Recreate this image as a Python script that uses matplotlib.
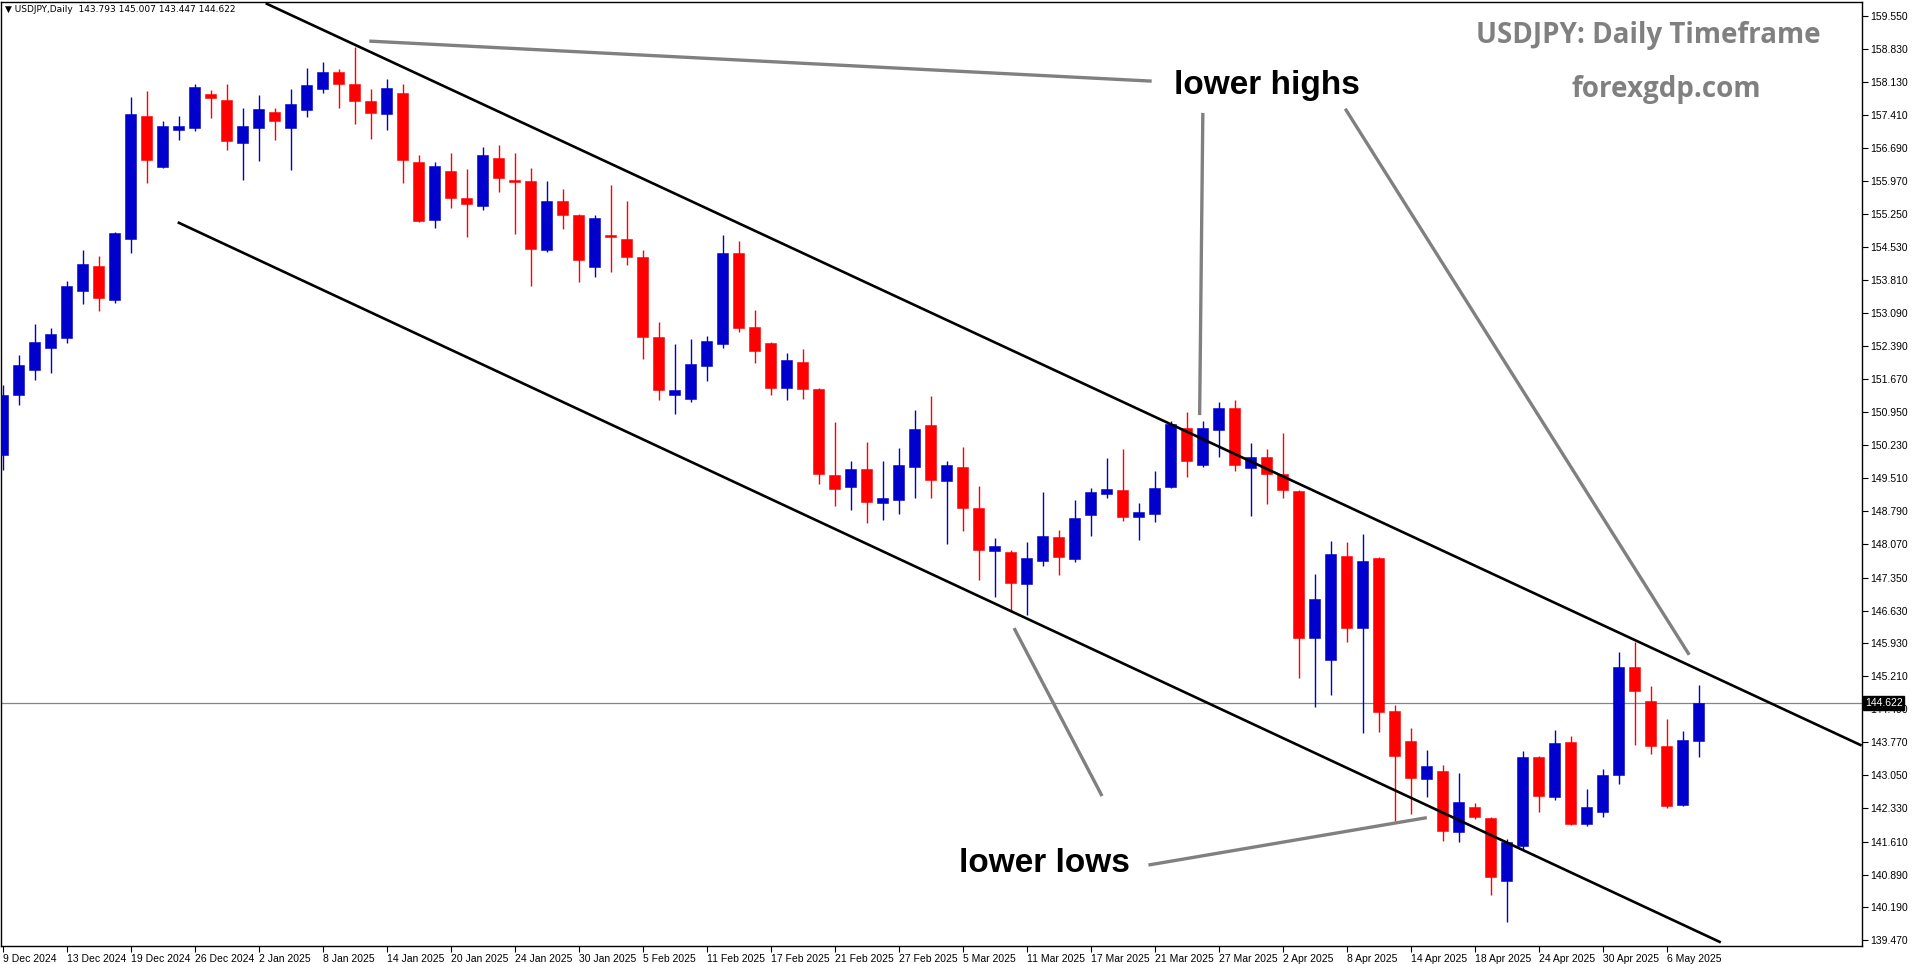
import matplotlib
matplotlib.use('Agg')
import matplotlib.pyplot as plt
import numpy as np

# daily candles, USDJPY 9 Dec 2024 - 8 May 2025
OPEN = [150.01, 151.32, 151.86, 152.34, 152.56, 153.58, 154.12, 153.38, 154.71, 157.38,
        156.28, 157.08, 157.12, 157.86, 157.73, 156.80, 157.12, 157.47, 157.12, 157.51,
        157.97, 158.34, 158.08, 157.71, 157.43, 157.88, 156.38, 155.12, 156.19, 155.60,
        155.43, 156.47, 155.99, 155.97, 154.47, 155.54, 155.23, 154.10, 154.80, 154.71,
        154.32, 152.58, 151.32, 151.23, 151.95, 152.43, 154.40, 152.79, 152.45, 151.47,
        152.04, 151.45, 149.58, 149.32, 149.70, 148.97, 149.03, 149.75, 150.67, 149.45,
        149.75, 148.86, 147.93, 147.90, 147.21, 147.71, 148.23, 147.75, 148.71, 149.17,
        149.25, 148.66, 148.73, 149.32, 150.60, 149.80, 150.56, 151.04, 149.73, 149.97,
        149.60, 149.23, 146.03, 145.56, 147.82, 146.25, 147.77, 144.45, 143.79, 142.97,
        143.14, 141.82, 142.36, 142.12, 140.75, 141.51, 143.45, 142.58, 143.77, 141.99,
        142.25, 143.06, 145.40, 144.66, 143.69, 142.41, 143.793]
HIGH = [151.54, 152.19, 152.86, 152.77, 153.80, 154.47, 154.34, 154.86, 157.80, 157.93,
        157.27, 157.38, 158.08, 157.95, 158.08, 157.56, 157.84, 157.56, 157.97, 158.43,
        158.56, 158.41, 158.88, 157.97, 158.19, 158.08, 156.53, 156.38, 156.58, 156.23,
        156.71, 156.75, 156.58, 156.25, 155.97, 155.80, 155.25, 155.23, 155.88, 155.54,
        154.47, 152.90, 152.43, 152.54, 152.60, 154.80, 154.67, 153.17, 152.47, 152.23,
        152.32, 151.47, 150.73, 149.88, 150.30, 149.88, 150.16, 150.99, 151.29, 149.88,
        150.19, 149.34, 148.21, 147.95, 148.12, 149.21, 148.38, 149.03, 149.30, 149.95,
        150.14, 148.97, 149.67, 150.75, 150.95, 150.75, 151.17, 151.21, 150.27, 150.14,
        150.49, 149.25, 147.43, 148.14, 148.12, 148.30, 147.80, 144.58, 144.08, 143.60,
        143.27, 143.10, 142.45, 142.14, 141.66, 143.58, 143.47, 144.03, 143.90, 142.75,
        143.19, 145.73, 145.95, 144.99, 144.27, 144.01, 145.007]
LOW = [149.69, 151.10, 151.64, 151.80, 152.45, 153.30, 153.14, 153.32, 154.40, 155.93,
       156.25, 156.86, 157.06, 157.34, 156.64, 155.99, 156.41, 156.86, 156.21, 157.36,
       157.88, 157.56, 157.21, 156.88, 157.08, 155.93, 155.08, 154.95, 155.38, 154.75,
       155.34, 155.73, 154.82, 153.69, 154.43, 154.93, 153.77, 153.88, 153.99, 154.14,
       152.10, 151.21, 150.90, 151.17, 151.62, 152.34, 152.69, 152.01, 151.32, 151.21,
       151.23, 149.38, 148.90, 148.82, 148.53, 148.60, 148.73, 149.08, 149.08, 148.08,
       148.36, 147.30, 146.93, 146.60, 146.53, 147.60, 147.41, 147.69, 148.25, 149.08,
       148.57, 148.17, 148.56, 149.30, 149.53, 149.75, 149.97, 149.67, 148.69, 148.95,
       149.08, 145.17, 144.53, 144.79, 145.95, 143.97, 143.99, 142.06, 142.21, 142.58,
       141.62, 141.60, 142.10, 140.45, 139.86, 141.45, 142.25, 142.51, 141.97, 141.95,
       142.14, 142.86, 143.71, 143.51, 142.34, 142.38, 143.447]
CLOSE = [151.32, 151.97, 152.47, 152.64, 153.69, 154.17, 153.43, 154.84, 157.43, 156.43,
         157.17, 157.17, 158.01, 157.78, 156.84, 157.17, 157.53, 157.27, 157.64, 158.06,
         158.34, 158.08, 157.71, 157.45, 157.99, 156.43, 155.10, 156.30, 155.60, 155.47,
         156.53, 156.04, 155.95, 154.49, 155.54, 155.23, 154.25, 155.17, 154.75, 154.32,
         152.58, 151.43, 151.43, 151.99, 152.49, 154.40, 152.77, 152.27, 151.47, 152.08,
         151.45, 149.60, 149.27, 149.70, 148.99, 149.08, 149.80, 150.58, 149.47, 149.80,
         148.86, 147.95, 148.03, 147.23, 147.77, 148.25, 147.80, 148.64, 149.21, 149.27,
         148.66, 148.77, 149.30, 150.69, 149.88, 150.60, 151.04, 149.80, 149.97, 149.60,
         149.25, 146.03, 146.88, 147.86, 146.25, 147.71, 144.43, 143.47, 142.99, 143.25,
         141.84, 142.47, 142.14, 140.84, 141.60, 143.45, 142.60, 143.75, 141.99, 142.36,
         143.06, 145.40, 144.88, 143.69, 142.38, 143.82, 144.622]

DATE_LABELS = ['9 Dec 2024', '13 Dec 2024', '19 Dec 2024', '26 Dec 2024', '2 Jan 2025',
               '8 Jan 2025', '14 Jan 2025', '20 Jan 2025', '24 Jan 2025', '30 Jan 2025',
               '5 Feb 2025', '11 Feb 2025', '17 Feb 2025', '21 Feb 2025', '27 Feb 2025',
               '5 Mar 2025', '11 Mar 2025', '17 Mar 2025', '21 Mar 2025', '27 Mar 2025',
               '2 Apr 2025', '8 Apr 2025', '14 Apr 2025', '18 Apr 2025', '24 Apr 2025',
               '30 Apr 2025', '6 May 2025']
PRICE_TICKS = [159.550, 158.830, 158.130, 157.410, 156.690, 155.970, 155.250, 154.530,
               153.810, 153.090, 152.390, 151.670, 150.950, 150.230, 149.510, 148.790,
               148.070, 147.350, 146.630, 145.930, 145.210, 144.490, 143.770, 143.050,
               142.330, 141.610, 140.890, 140.190, 139.470]
LAST_PRICE = 144.622

# channel lines (bar index, price)
UPPER_CHANNEL = [(16.5, 159.82), (116.1, 143.71)]
LOWER_CHANNEL = [(11.0, 155.06), (107.3, 139.43)]
# grey pointer lines
POINTERS = [
    [(22.9, 159.01), (71.8, 158.14)],
    [(75.0, 157.45), (74.8, 150.88)],
    [(83.9, 157.54), (105.4, 145.67)],
    [(63.2, 146.25), (68.7, 142.60)],
    [(71.6, 141.10), (89.0, 142.13)],
]

BLUE = '#0000CD'
RED = '#FF0000'
GREY = '#808080'

fig = plt.figure(figsize=(19.16, 9.64), dpi=100)
ax = fig.add_axes([1 / 1916, 1 - 946 / 964, 1861 / 1916, 944 / 964])

o, h, l, c = map(np.array, (OPEN, HIGH, LOW, CLOSE))
idx = np.arange(len(o))
colors = np.where(c >= o, BLUE, RED)
ax.vlines(idx, l, h, colors=colors, linewidth=1.0, zorder=2)
ax.bar(idx, np.maximum(np.abs(c - o), 0.03), bottom=np.minimum(o, c), width=0.69,
       color=colors, edgecolor=colors, linewidth=0.4, zorder=3)

for pts in (UPPER_CHANNEL, LOWER_CHANNEL):
    xs, ys = zip(*pts)
    ax.plot(xs, ys, color='black', linewidth=1.9, zorder=4)
for pts in POINTERS:
    xs, ys = zip(*pts)
    ax.plot(xs, ys, color=GREY, linewidth=2.4, zorder=4, solid_capstyle='butt')

ax.axhline(LAST_PRICE, color='#778899', linewidth=0.9, zorder=1)

ax.text(79.0, 158.05, 'lower highs', fontsize=24, fontweight='bold',
        family='Liberation Sans', ha='center', va='center', zorder=5)
ax.text(65.1, 141.13, 'lower lows', fontsize=24, fontweight='bold',
        family='Liberation Sans', ha='center', va='center', zorder=5)
ax.text(0.885, 0.965, 'USDJPY: Daily Timeframe', transform=ax.transAxes, fontsize=20,
        fontweight='bold', color=GREY, family='Open Sans', ha='center', va='center')
ax.text(0.895, 0.907, 'forexgdp.com', transform=ax.transAxes, fontsize=20,
        fontweight='bold', color=GREY, family='Open Sans', ha='center', va='center')
ax.text(0.002, 0.997, '\u25bc USDJPY,Daily  143.793 145.007 143.447 144.622',
        transform=ax.transAxes, fontsize=6.5, ha='left', va='top')

ax.set_xlim(-0.12, 116.2)
ax.set_ylim(139.34, 159.86)

ax.set_xticks(np.arange(0, len(DATE_LABELS) * 4, 4))
ax.set_xticklabels(DATE_LABELS, ha='left', fontsize=7.5, family='Liberation Sans')
ax.yaxis.tick_right()
ax.set_yticks(PRICE_TICKS)
ax.set_yticklabels(['%.3f' % p for p in PRICE_TICKS], fontsize=7.5, family='Liberation Sans')
ax.tick_params(axis='both', direction='out', length=4, width=0.8, pad=2)
for s in ax.spines.values():
    s.set_linewidth(1.0)

ax.text(1.0015, LAST_PRICE, '%.3f' % LAST_PRICE, transform=ax.get_yaxis_transform(),
        fontsize=7.5, color='white', ha='left', va='center', family='Liberation Sans',
        bbox=dict(boxstyle='square,pad=0.15', fc='black', ec='black'), zorder=6)

fig.savefig('out.png', dpi=100, facecolor='white')
